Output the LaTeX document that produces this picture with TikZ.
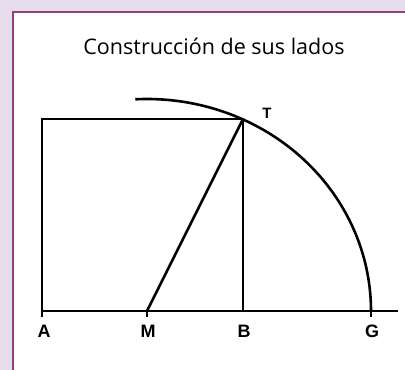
\documentclass[tikz,border=0pt]{standalone}
\usepackage{fontspec}
\setmainfont{Open Sans}
\newfontfamily\letrafont{Liberation Sans}
\definecolor{lavanda}{RGB}{229,221,236}
\definecolor{marco}{RGB}{142,64,132}
\begin{document}
\begin{tikzpicture}[x=1pt, y=-1pt, line width=2.6pt,
        letra/.style={font=\letrafont\bfseries\fontsize{18}{18}\selectfont, inner sep=0pt}]
        \useasboundingbox (0,0) rectangle (405,370);
        \fill[lavanda] (0,0) rectangle (405,370);
        \fill[white] (13,12) rectangle (405,370);
        \draw[marco, line width=2pt] (13,370) -- (13,12) -- (405,12);

        \node[font=\fontsize{21.5}{21.5}\selectfont, inner sep=0pt] (titulo) at (214,46) {Construcción de sus lados};

        \coordinate (a) at (42,311);
        \coordinate (m) at (147,311);
        \coordinate (b) at (243,311);
        \coordinate (g) at (371,311);
        \coordinate (t) at (243,119);
        \coordinate (fin) at (398,311);

        \draw (a) -- (a |- t) -- (t) -- (b);
        \draw (a) -- (fin);
        \draw (m) -- (t);
        \draw (g) arc[start angle=0, end angle=-93, x radius=224, y radius=212];

        % marcas bajo la recta
        \draw[line width=1.8pt] (a) -- ++(0,6);
        \draw[line width=1.8pt] (m) -- ++(0,6);
        \draw[line width=1.8pt] (g) -- ++(0,6);

        \node[letra] (la) at (44,331) {A};
        \node[letra] (lm) at (148,331) {M};
        \node[letra] (lb) at (244,331) {B};
        \node[letra] (lg) at (372,331) {G};
        \node[letra, font=\letrafont\bfseries\fontsize{15}{15}\selectfont] (lt) at (267,113) {T};
\end{tikzpicture}
\end{document}
